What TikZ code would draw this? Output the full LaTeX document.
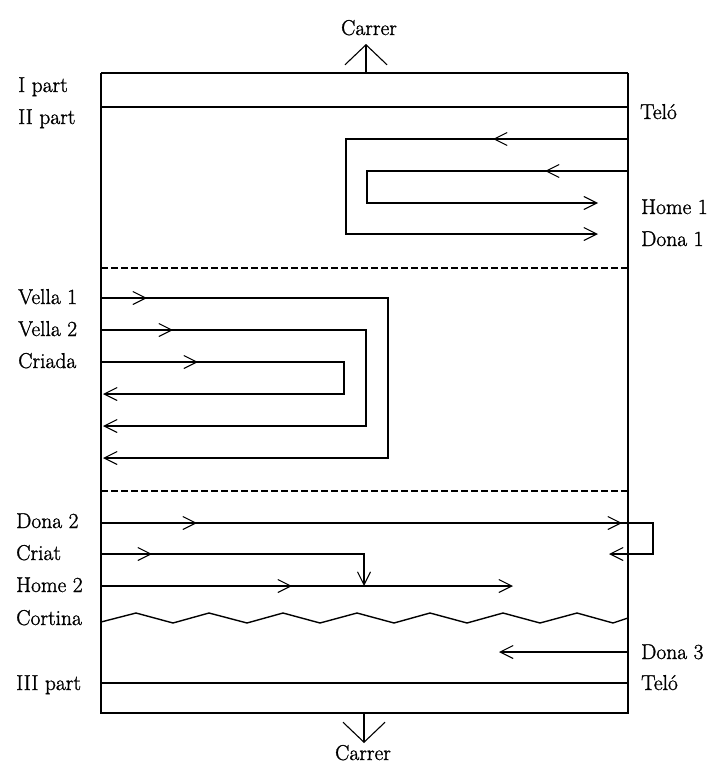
\documentclass[tikz,border=0pt]{standalone}
\usepackage{fontspec}
\newfontfamily\lblfont{Latin Modern Roman}[RawFeature={embolden=1.2}]
\usetikzlibrary{arrows.meta}
\begin{document}
\begin{tikzpicture}[x=1pt,y=-1pt,
  lbl/.style={anchor=base west, inner sep=0pt, font=\lblfont\fontsize{21.5}{25}\selectfont},
  clbl/.style={anchor=base, inner sep=0pt, font=\lblfont\fontsize{21.5}{25}\selectfont},
  wall/.style={line width=1.1pt},
  telo/.style={line width=2.4pt},
  route/.style={line width=1.1pt},
  endtip/.style={route, -{Straight Barb[length=13pt,width=13pt,line width=1.1pt]}},
  chev/.style={route, -{Straight Barb[length=13pt,width=13pt,line width=1.1pt]}},
  bigtip/.style={line width=1.1pt, -{Straight Barb[length=20pt,width=42pt,line width=1.1pt]}},
  cortina/.style={line width=1.4pt, line join=miter},
  sep/.style={line width=1.1pt, dash pattern=on 7pt off 3pt}
]
\useasboundingbox (0,0) rectangle (711,763);

% stage box
\coordinate (TL) at (101,73);
\coordinate (TR) at (628,73);
\coordinate (BL) at (101,713);
\coordinate (BR) at (628,713);
\draw[wall] (TL) -- (BL) -- (BR) -- (TR);
\draw[line width=1.7pt] (TL) -- (TR);

% street arrows
\coordinate (ctop) at (366,73);
\coordinate (ctopend) at (366,44);
\coordinate (cbot) at (364,713);
\coordinate (cbotend) at (364,743);
\draw[bigtip] (ctop) -- (ctopend);
\draw[bigtip] (cbot) -- (cbotend);
\node[clbl] (carrerT) at (369,35) {Carrer};
\node[clbl] (carrerB) at (363,760) {Carrer};

% curtain lines (Telo)
\coordinate (t1a) at (101,107);
\coordinate (t1b) at (628,107);
\draw[telo] (t1a) -- (t1b);
\coordinate (t2a) at (101,683);
\coordinate (t2b) at (628,683);
\draw[telo] (t2a) -- (t2b);

% separators
\coordinate (s1a) at (101,268);
\coordinate (s1b) at (628,268);
\draw[sep] (s1a) -- (s1b);
\coordinate (s2a) at (101,491);
\coordinate (s2b) at (628,491);
\draw[sep] (s2a) -- (s2b);

% II part: Dona 1 and Home 1
\coordinate (d1s) at (628,139);
\coordinate (d1e) at (598,234);
\draw[endtip] (d1s) -- (346,139) -- (346,234) -- (d1e);
\draw[chev] (494,139) -- (493,139);
\coordinate (h1s) at (628,171);
\coordinate (h1e) at (598,203);
\draw[endtip] (h1s) -- (367,171) -- (367,203) -- (h1e);
\draw[chev] (546,171) -- (545,171);

% Vella 1, Vella 2, Criada
\coordinate (v1s) at (101,298);
\coordinate (v1e) at (103,458);
\draw[endtip] (v1s) -- (388,298) -- (388,458) -- (v1e);
\draw[chev] (146,298) -- (147,298);
\coordinate (v2s) at (101,330);
\coordinate (v2e) at (103,426);
\draw[endtip] (v2s) -- (366,330) -- (366,426) -- (v2e);
\draw[chev] (172,330) -- (173,330);
\coordinate (cas) at (101,362);
\coordinate (cae) at (103,394);
\draw[endtip] (cas) -- (344,362) -- (344,394) -- (cae);
\draw[chev] (197,362) -- (198,362);

% Dona 2
\coordinate (d2s) at (101,523);
\coordinate (d2e) at (609,554);
\draw[endtip] (d2s) -- (653,523) -- (653,554) -- (d2e);
\draw[chev] (196,523) -- (197,523);
\draw[chev] (621,523) -- (622,523);

% Criat
\coordinate (cts) at (101,554);
\coordinate (cte) at (364,586);
\draw[endtip] (cts) -- (364,554) -- (cte);
\draw[chev] (151,554) -- (152,554);

% Home 2
\coordinate (h2s) at (101,586);
\coordinate (h2e) at (513,586);
\draw[endtip] (h2s) -- (h2e);
\draw[chev] (291,586) -- (292,586);

% Cortina
\coordinate (cos) at (101,622);
\coordinate (coe) at (628,618);
\draw[cortina] (cos) -- (136,613) -- (173,623) -- (209,613) -- (247,623) -- (283,613)
  -- (320,623) -- (357,613) -- (394,623) -- (430,613) -- (467,623) -- (503,613)
  -- (540,623) -- (577,613) -- (613,623) -- (coe);

% Dona 3
\coordinate (d3s) at (628,652);
\coordinate (d3e) at (499,652);
\draw[endtip] (d3s) -- (d3e);

% labels left
\node[lbl] (ipart) at (18,92) {I part};
\node[lbl] (iipart) at (18,124) {II part};
\node[lbl] (vella1) at (18,304) {Vella 1};
\node[lbl] (vella2) at (18,336) {Vella 2};
\node[lbl] (criada) at (18,368) {Criada};
\node[lbl] (dona2) at (16,528) {Dona 2};
\node[lbl] (criat) at (16,560) {Criat};
\node[lbl] (home2) at (16,592) {Home 2};
\node[lbl] (cortinalbl) at (16,625) {Cortina};
\node[lbl] (iiipart) at (16,690) {III part};

% labels right
\node[lbl] (telo1) at (640,119) {Teló};
\node[lbl] (home1) at (641,214) {Home 1};
\node[lbl] (dona1) at (641,246) {Dona 1};
\node[lbl] (dona3) at (641,659) {Dona 3};
\node[lbl] (telo2) at (641,690) {Teló};
\end{tikzpicture}
\end{document}
